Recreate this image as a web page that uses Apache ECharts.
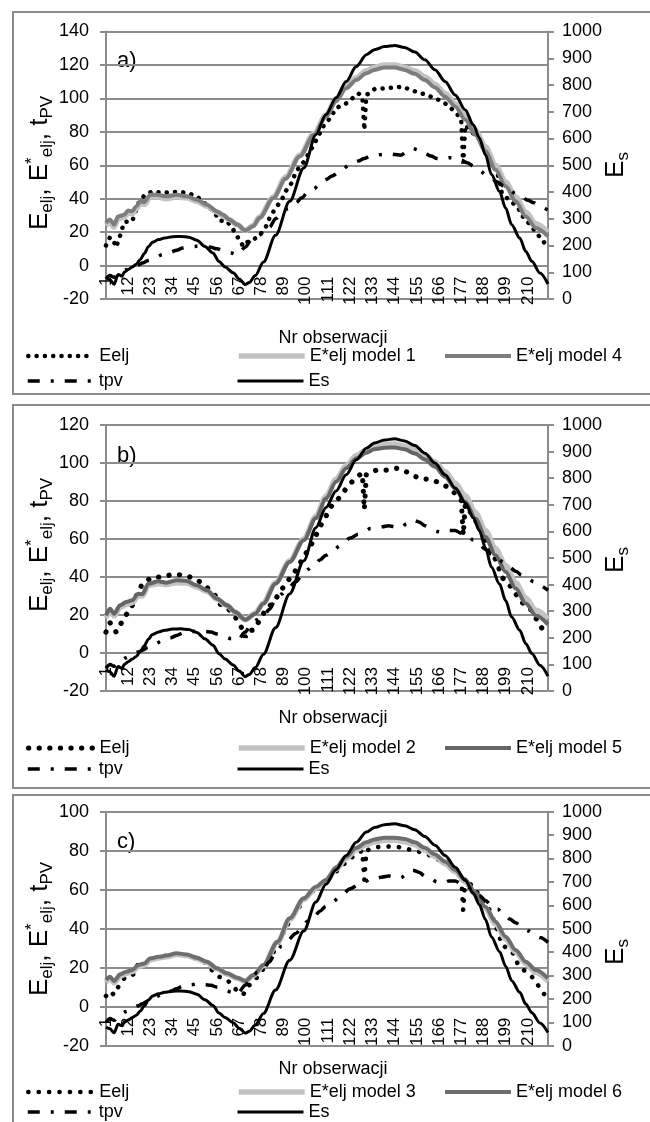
<!DOCTYPE html>
<html>
<head>
<meta charset="utf-8">
<script src="https://cdn.jsdelivr.net/npm/echarts@6/dist/echarts.min.js"></script>
<style>
html, body { margin: 0; padding: 0; background: #fff; }
#chart { width: 650px; height: 1122px; }
</style>
</head>
<body>
<div id="chart"></div>
<script>
// numery obserwacji 1..220 (etykiety co 11)
var categories = [];
for (var i = 1; i <= 220; i++) categories.push(String(i));

// Es - prawa os, wspolne dla wszystkich paneli [nr obserwacji, wartosc]
var esData = [[1,80],[3,72],[5,55],[7,92],[9,85],[10,100],[12,110],[14,120],[16,130],[18,148],[20,170],[22,195],[24,212],[27,222],[30,228],[34,233],[38,234],[42,231],[46,220],[50,196],[54,172],[57,140],[60,120],[64,98],[67,75],[70,54],[72,62],[75,88],[79,138],[85,238],[92,365],[99,490],[105,614],[110,690],[115,752],[120,813],[125,869],[130,913],[134,932],[139,944],[144,948],[149,940],[154,923],[159,894],[164,857],[169,813],[174,763],[179,707],[183,651],[186,602],[189,539],[192,465],[196,402],[199,340],[202,278],[206,228],[209,178],[212,141],[216,97],[220,56]];

// tpv - lewa os, wspolne
var tpvData = [[1,-8],[3,-6],[5,-7],[8,-4],[11,-2.5],[14,-0.5],[17,0.5],[19,1.5],[22,3],[25,4.6],[29,6.5],[33,8],[36,9.2],[39,10.5],[42,11.2],[46,11.5],[50,11.3],[53,11],[56,10],[60,8.5],[63,7.5],[66,6.5],[70,11],[73,15.4],[76,17.5],[79,19.5],[82,23],[85,28],[88,31],[91,34],[95,37.5],[98,40.5],[101,44],[104,46],[107,49],[110,51.5],[113,53.5],[117,56.5],[122,60.5],[126,62.5],[129,64],[132,65.5],[135,66],[138,66.5],[141,67],[144,66.5],[147,66],[150,68],[153,70],[156,69],[159,67],[162,65.5],[165,64],[168,63.5],[171,64.5],[174,64.5],[177,63],[180,61.5],[183,59.5],[186,57],[189,54.5],[192,52],[195,50],[198,47.5],[201,45],[204,43],[207,41],[210,39],[213,37.5],[216,35.5],[220,33]];

// panel a)
var eeljA = [[1,12],[3,17],[5,14],[6,11],[8,18],[10,26],[14,26.5],[17,37],[20,42],[24,44.4],[29,43.5],[34,44],[38,44],[41,43.5],[46,41.4],[51,36],[55,31.4],[57,27],[61,26.5],[64,21.5],[66,17.5],[69,11.5],[71,14],[74,15.5],[77,18],[80,22.5],[82,28.4],[85,34.4],[88,39],[90,44.4],[93,49.4],[95,56],[99,62],[104,72.3],[109,84],[112,88],[115,94.2],[120,97],[123,100],[126,103],[128,101],[129,81],[130,102],[134,105.5],[139,106],[144,106.5],[148,107],[152,105],[156,103.5],[160,102],[164,100],[168,98],[172,94],[175,90.6],[177,87],[178,61],[179,84],[182,80],[185,77],[188,72],[192,62],[195,55],[197,44],[200,40],[203,37],[206,33],[207,30],[209,27.5],[213,21.5],[216,17],[219,12.5]];
var modelA1 = [[1,24],[3,26],[5,23],[7,28],[10,29],[12,31.5],[14,31],[16,34],[18,37],[20,36.5],[23,41],[26,41],[31,40],[36,41],[41,40.5],[46,38.5],[51,35.5],[56,32],[59,30],[62,27.5],[66,24.5],[70,21],[74,24],[77,29],[84,41],[90,53],[97,66],[104,79],[110,90],[115,99.5],[120,107.5],[125,112.5],[130,116.5],[134,118.5],[139,120],[144,120],[149,118.5],[154,116.5],[159,113],[164,108.5],[169,103],[174,97],[179,89.5],[184,81],[189,71],[194,60],[199,50],[204,41],[209,32],[214,25],[220,20]];
var modelA4 = [[1,25.5],[3,27.5],[5,24.5],[7,29.4],[10,30.4],[12,33],[14,32.5],[16,35.4],[18,38.4],[20,38],[23,42.4],[26,42.4],[31,41.4],[36,42.4],[41,41.4],[46,39.4],[51,36.4],[56,32.4],[59,30.4],[62,27.5],[66,24.5],[70,21],[74,23.5],[77,28.4],[84,40.4],[90,52],[97,65.3],[104,78.2],[110,89],[115,98.2],[120,106],[125,111],[130,115],[134,117],[139,118.5],[144,118.5],[149,117],[154,114.7],[159,111],[164,106.5],[169,101],[174,95.2],[179,87.2],[184,78.2],[189,68.3],[194,57.3],[199,47.4],[204,38.4],[209,29.4],[214,22.5],[220,17.5]];

// panel b)
var eeljB = [[1,11],[3,16],[4,13.7],[6,11],[8,14.6],[10,19],[13,22.5],[15,27.7],[19,36.5],[24,40],[29,40],[34,41.4],[40,41],[46,38.6],[50,35.6],[55,30.4],[57,26],[61,24],[65,19],[68,13.7],[70,8.4],[72,12],[74,12],[77,17],[80,22.5],[84,26.9],[87,31.6],[90,36.5],[94,41.8],[97,47],[100,52.3],[104,59.4],[107,66.4],[110,72],[113,77.8],[117,82.2],[120,86.6],[124,91.4],[127,94],[128,94.6],[129,75.5],[130,94],[135,96.3],[140,96.3],[145,97.2],[151,94.9],[156,91.9],[161,91.4],[165,90.1],[170,87.5],[174,84],[177,80.5],[178,62],[179,78],[183,72],[187,64],[191,56],[195,47],[197,40],[200,37],[203,33],[206,27.6],[209,25],[212,22.3],[216,14.4],[220,9]];
var modelB2 = [[1,18.5],[3,22],[5,19.5],[8,24],[11,25.5],[14,26.5],[17,30],[19,30],[22,35.5],[27,36.5],[31,36],[36,37],[41,36.8],[46,34.8],[51,32.5],[56,28.3],[61,25],[65,21.6],[70,17.5],[75,21],[79,26.5],[85,37],[92,48.5],[99,60],[105,72],[110,82.5],[115,91.5],[120,98.5],[125,104],[130,107],[134,109],[139,109.8],[144,110],[149,109],[154,107],[159,104],[164,100.5],[169,95.5],[174,89.5],[179,82.8],[184,74],[189,64.5],[194,55],[199,46],[204,37],[209,29],[214,22.5],[220,18]];
var modelB5 = [[1,19.8],[3,23.3],[5,20.7],[8,25.1],[11,26.9],[14,27.7],[17,31.2],[19,31],[22,36.5],[27,37.7],[31,37],[36,38.3],[41,37.9],[46,35.6],[51,33],[56,28.6],[61,25.1],[65,21.6],[70,17.5],[75,20.7],[79,26],[85,36.5],[92,47.9],[99,59.4],[105,71],[110,81.3],[115,90.1],[120,97.2],[125,102.4],[130,105.4],[134,107.2],[139,108],[144,108.2],[149,107.2],[154,105],[159,101.9],[164,98],[169,92.8],[174,86.6],[179,79.6],[184,70.8],[189,61.1],[194,51.5],[199,42.7],[204,33.9],[209,26],[214,19.8],[220,15.1]];

// panel c)
var eeljC = [[1,5.5],[3,8],[5,6],[8,12],[10,14.5],[12,14.6],[15,17],[17,22.2],[20,21.5],[24,24.5],[30,26],[36,27],[42,26.2],[47,24.5],[51,22],[54,18],[57,15.4],[61,13.7],[64,10.5],[66,8],[69,6.2],[71,10.3],[74,12.5],[78,18],[82,24],[86,32],[92,44],[99,54.5],[105,61],[110,65],[115,69.2],[121,75.2],[126,79],[128,80],[129,65],[130,80],[134,81.7],[139,82.1],[145,82.1],[151,80.7],[156,79.5],[161,77.8],[166,75.2],[171,72.6],[175,70.1],[177,67],[178,49.4],[179,66],[183,61],[187,56],[190,52],[194,42],[196,35.9],[197,31.6],[200,30],[203,27],[205,22],[207,19.7],[210,17],[212,15.4],[215,11.1],[218,6.5],[220,6]];
var modelC3 = [[1,12.5],[3,14.5],[5,12.2],[8,15.6],[11,17],[14,18],[17,20.5],[20,21.5],[23,24],[27,25],[31,25.6],[36,26.8],[41,26.3],[46,24.6],[51,22.7],[56,19.4],[61,16.8],[66,14.6],[70,13],[74,16],[79,21],[86,33],[92,44.8],[99,55],[105,61],[110,64.5],[115,70.5],[120,76],[125,80.5],[130,83],[134,84.5],[139,85.3],[144,85.3],[149,84.6],[154,83],[159,80.3],[164,77],[169,73.3],[174,69.2],[179,64],[184,57.6],[189,50.3],[194,42.5],[199,34.8],[204,28],[209,22],[214,17.5],[220,13]];
var modelC6 = [[1,13.7],[3,15.4],[5,13.2],[8,16.6],[11,17.9],[14,18.8],[17,21.4],[20,22.2],[23,24.8],[27,25.6],[31,26.2],[36,27.4],[41,26.8],[46,25.1],[51,23.1],[56,19.7],[61,17.1],[66,14.9],[70,13.2],[74,16.2],[79,21.4],[86,33.3],[92,45.3],[99,55.6],[105,61.5],[110,65],[115,71.5],[120,77],[125,81.5],[130,84.3],[134,85.8],[139,86.7],[144,86.7],[149,86],[154,84.3],[159,81.5],[164,78.1],[169,74.4],[174,70.1],[179,65],[184,58.6],[189,51.3],[194,43.6],[199,35.9],[204,29.1],[209,23.1],[214,18.8],[220,14.5]];

var FONT = "'Liberation Sans', Arial, sans-serif";
var GRID_COLOR = '#8c8c8c';

var panels = [
    { key: 'a', top: 31.5, height: 267.5, yMax: 140, frameTop: 12, frameH: 382, tagY: 61, nameY: 163, esY: 165, obsY: 338, rows: [356, 381], labelMargin: 11,
      eelj: eeljA, light: modelA1, dark: modelA4, lightName: 'E*elj model 1', darkName: 'E*elj model 4', dot: { w: 4.5, gap: 8.2 }, lightColor: '#c3c3c3', darkColor: '#7d7d7d' },
    { key: 'b', top: 425, height: 266, yMax: 120, frameTop: 405, frameH: 383, tagY: 456, nameY: 545, esY: 560, obsY: 718, rows: [748, 769], labelMargin: 14,
      eelj: eeljB, light: modelB2, dark: modelB5, lightName: 'E*elj model 2', darkName: 'E*elj model 5', dot: { w: 5.2, gap: 10.5 }, lightColor: '#c3c3c3', darkColor: '#666666' },
    { key: 'c', top: 811.7, height: 234, yMax: 100, frameTop: 795, frameH: 400, tagY: 842, nameY: 929, esY: 952, obsY: 1069, rows: [1092, 1112], labelMargin: 11,
      eelj: eeljC, light: modelC3, dark: modelC6, lightName: 'E*elj model 3', darkName: 'E*elj model 6', dot: { w: 4.6, gap: 10.3 }, lightColor: '#c3c3c3', darkColor: '#6e6e6e' }
];

function toCat(arr) {
    return arr.map(function (p) { return [String(p[0]), p[1]]; });
}

var grids = [], xAxes = [], yAxes = [], series = [], legends = [], graphics = [];

panels.forEach(function (p, i) {
    grids.push({ left: 106, width: 442, top: p.top, height: p.height, containLabel: false });

    // os kategorii przechodzi przez 0 (jak w Excelu) - przesuniecie w gore od dolu siatki
    var zeroShift = p.height * 20 / (p.yMax + 20);

    xAxes.push({
        gridIndex: i,
        type: 'category',
        data: categories,
        boundaryGap: false,
        position: 'bottom',
        offset: -zeroShift,
        axisLine: { onZero: false, lineStyle: { color: GRID_COLOR, width: 2 } },
        axisTick: { show: false },
        axisLabel: { interval: 10, rotate: 90, fontSize: 17, color: '#000', margin: p.labelMargin, fontFamily: FONT },
        splitLine: { show: false }
    });

    yAxes.push({
        gridIndex: i, type: 'value', position: 'left',
        min: -20, max: p.yMax, interval: 20,
        axisLine: { show: true, lineStyle: { color: GRID_COLOR, width: 2 } },
        axisTick: { show: true, length: 6, lineStyle: { color: GRID_COLOR, width: 2 } },
        axisLabel: { fontSize: 18, color: '#000', margin: 17, fontFamily: FONT },
        splitLine: { show: true, lineStyle: { color: GRID_COLOR, width: 2 } }
    });
    yAxes.push({
        gridIndex: i, type: 'value', position: 'right',
        min: 0, max: 1000, interval: 100,
        axisLine: { show: true, lineStyle: { color: GRID_COLOR, width: 2 } },
        axisTick: { show: true, length: 6, lineStyle: { color: GRID_COLOR, width: 2 } },
        axisLabel: { fontSize: 18, color: '#000', margin: 14, fontFamily: FONT, formatter: function (v) { return String(v); } },
        splitLine: { show: false }
    });

    var names = {
        eelj: 'Eelj|' + p.key, tpv: 'tpv|' + p.key, es: 'Es|' + p.key,
        light: p.lightName, dark: p.darkName
    };

    function line(name, data, yIdx, style, smooth) {
        return {
            type: 'line', name: name, xAxisIndex: i, yAxisIndex: yIdx,
            data: toCat(data), symbol: 'none', smooth: smooth, smoothMonotone: 'x',
            color: style.color, lineStyle: style, animation: false
        };
    }

    series.push(line(names.eelj, p.eelj, 2 * i, { color: '#000', width: p.dot.w, type: [0.1, p.dot.gap], cap: 'round' }, false));
    series.push(line(names.light, p.light, 2 * i, { color: p.lightColor, width: 5.5 }, 0.3));
    series.push(line(names.dark, p.dark, 2 * i, { color: p.darkColor, width: 4 }, 0.3));
    series.push(line(names.tpv, tpvData, 2 * i, { color: '#000', width: 3.5, type: [12, 11, 3, 11] }, 0.3));
    series.push(line(names.es, esData, 2 * i + 1, { color: '#000', width: 3 }, 0.3));

    // legenda: 3 kolumny, 2 wiersze
    var cells = [
        [names.eelj, 26, p.rows[0]], [names.light, 236, p.rows[0]], [names.dark, 443, p.rows[0]],
        [names.tpv, 26, p.rows[1]], [names.es, 236, p.rows[1]]
    ];
    cells.forEach(function (c) {
        legends.push({
            data: [c[0]], left: c[1], top: c[2] - 9, padding: 0,
            itemWidth: 66, itemHeight: 14, selectedMode: false,
            formatter: function (n) { return n.split('|')[0]; },
            itemStyle: { opacity: 0 },
            lineStyle: { width: 'inherit' },
            textStyle: { fontSize: 18, color: '#000', fontFamily: FONT }
        });
    });

    graphics.push({
        type: 'rect', z: -1, silent: true,
        shape: { x: 13, y: p.frameTop, width: 660, height: p.frameH },
        style: { fill: 'none', stroke: GRID_COLOR, lineWidth: 2 }
    });
    graphics.push({
        type: 'text', x: 117, y: p.tagY,
        style: { text: p.key + ')', fontSize: 22, fontFamily: FONT, fill: '#000', verticalAlign: 'middle' }
    });
    graphics.push({
        type: 'text', x: 333, y: p.obsY,
        style: { text: 'Nr obserwacji', fontSize: 18, fontFamily: FONT, fill: '#000', align: 'center', verticalAlign: 'middle' }
    });
    graphics.push({
        type: 'text', x: 40, y: p.nameY, rotation: Math.PI / 2,
        style: {
            text: '{b|E}{s|elj}{b|, E}{p|*}{s|elj}{b|, t}{s|PV}',
            align: 'center', verticalAlign: 'middle', fill: '#000',
            rich: {
                b: { fontSize: 26, fontFamily: FONT, lineHeight: 32 },
                s: { fontSize: 17, fontFamily: FONT, lineHeight: 17, verticalAlign: 'bottom' },
                p: { fontSize: 17, fontFamily: FONT, lineHeight: 17, verticalAlign: 'top' }
            }
        }
    });
    graphics.push({
        type: 'text', x: 616, y: p.esY, rotation: Math.PI / 2,
        style: {
            text: '{b|E}{s|s}',
            align: 'center', verticalAlign: 'middle', fill: '#000',
            rich: {
                b: { fontSize: 26, fontFamily: FONT, lineHeight: 32 },
                s: { fontSize: 17, fontFamily: FONT, lineHeight: 17, verticalAlign: 'bottom' }
            }
        }
    });
});

var chart = echarts.init(document.getElementById('chart'), null, { renderer: 'canvas' });
chart.setOption({
    backgroundColor: '#fff',
    animation: false,
    textStyle: { fontFamily: FONT },
    grid: grids,
    xAxis: xAxes,
    yAxis: yAxes,
    legend: legends,
    graphic: { elements: graphics },
    series: series
});
</script>
</body>
</html>
